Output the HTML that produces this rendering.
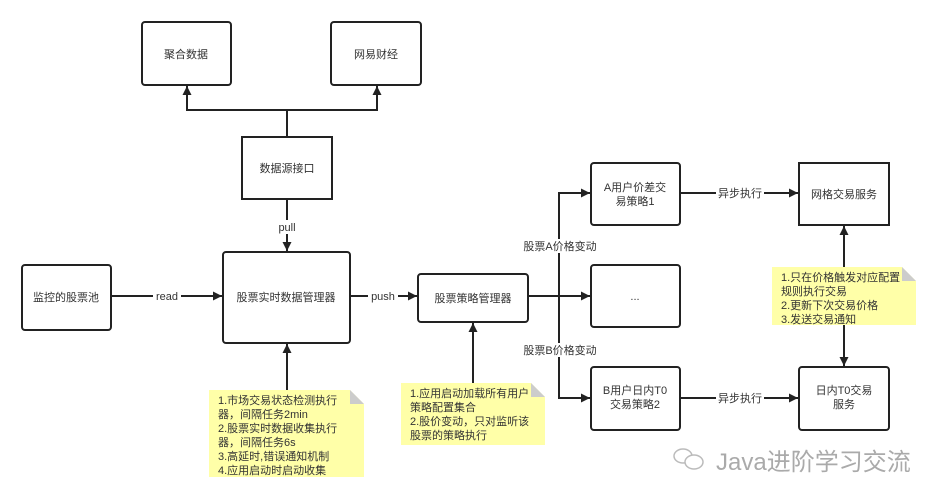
<!DOCTYPE html>
<html><head><meta charset="utf-8"><style>
body{margin:0;background:#fff;}
svg{display:block;font-family:"Liberation Sans","Noto Sans CJK SC",sans-serif;}
</style></head><body>
<svg width="938" height="500" viewBox="0 0 938 500" xmlns="http://www.w3.org/2000/svg">
<defs>
<marker id="a" viewBox="0 0 10 10" refX="10" refY="5" markerWidth="9" markerHeight="9" markerUnits="userSpaceOnUse" orient="auto"><path d="M0,0L10,5L0,10z" fill="#222"/></marker>
</defs>
<g stroke="#222" stroke-width="2" fill="#fff">
<rect x="142" y="22" width="89" height="63" rx="3"/>
<rect x="331" y="22" width="90" height="63" rx="3"/>
<rect x="242" y="137" width="90" height="62"/>
<rect x="22" y="265" width="89" height="65" rx="3"/>
<rect x="223" y="252" width="127" height="91" rx="3"/>
<rect x="418" y="274" width="110" height="48" rx="3"/>
<rect x="591" y="163" width="89" height="62" rx="3"/>
<rect x="591" y="265" width="89" height="62" rx="3"/>
<rect x="591" y="367" width="89" height="63" rx="3"/>
<rect x="799" y="163" width="90" height="62"/>
<rect x="799" y="367" width="90" height="63" rx="3"/>
</g>
<g stroke="#222" stroke-width="2" fill="none">
<path d="M287 137V110H187V86" marker-end="url(#a)"/>
<path d="M287 110H377V86" marker-end="url(#a)"/>
<path d="M287 199V251" marker-end="url(#a)"/>
<path d="M111 296H222" marker-end="url(#a)"/>
<path d="M350 296H417" marker-end="url(#a)"/>
<path d="M287 390V344" marker-end="url(#a)"/>
<path d="M473 383V323" marker-end="url(#a)"/>
<path d="M528 296H590" marker-end="url(#a)"/>
<path d="M559 296V193H590" marker-end="url(#a)"/>
<path d="M559 296V398H590" marker-end="url(#a)"/>
<path d="M680 193H798" marker-end="url(#a)"/>
<path d="M680 398H798" marker-end="url(#a)"/>
<path d="M844 267V226" marker-end="url(#a)"/>
<path d="M844 325V366" marker-end="url(#a)"/>
</g>
<g font-size="11" fill="#333" text-anchor="middle">
<rect x="272" y="220" width="30" height="14" fill="#fff"/>
<text x="287" y="231">pull</text>
<rect x="153" y="289" width="28" height="14" fill="#fff"/>
<text x="167" y="300">read</text>
<rect x="368" y="289" width="30" height="14" fill="#fff"/>
<text x="383" y="300">push</text>
<rect x="520" y="239" width="80" height="14" fill="#fff"/>
<text x="560" y="250">股票A价格变动</text>
<rect x="520" y="343" width="80" height="14" fill="#fff"/>
<text x="560" y="354">股票B价格变动</text>
<rect x="716" y="186" width="48" height="14" fill="#fff"/>
<text x="740" y="197">异步执行</text>
<rect x="716" y="391" width="48" height="14" fill="#fff"/>
<text x="740" y="402">异步执行</text>
<text x="186" y="58">聚合数据</text>
<text x="376" y="58">网易财经</text>
<text x="287" y="172">数据源接口</text>
<text x="66" y="301">监控的股票池</text>
<text x="286" y="301">股票实时数据管理器</text>
<text x="473" y="302">股票策略管理器</text>
<text x="635" y="191">A用户价差交</text>
<text x="635" y="205">易策略1</text>
<text x="635" y="300">...</text>
<text x="635" y="394">B用户日内T0</text>
<text x="635" y="408">交易策略2</text>
<text x="844" y="198">网格交易服务</text>
<text x="844" y="394">日内T0交易</text>
<text x="844" y="408">服务</text>
</g>
<g>
<path d="M209 390H350L364 404V477H209Z" fill="#ffff99" opacity="0.85"/>
<path d="M350 390L364 404H350Z" fill="#ccc"/>
<path d="M401 383H531L545 397V445H401Z" fill="#ffff99" opacity="0.85"/>
<path d="M531 383L545 397H531Z" fill="#ccc"/>
<path d="M772 267H902L916 281V325H772Z" fill="#ffff99" opacity="0.85"/>
<path d="M902 267L916 281H902Z" fill="#ccc"/>
</g>
<g font-size="11" fill="#333">
<text x="218" y="404">1.市场交易状态检测执行</text>
<text x="218" y="418">器，间隔任务2min</text>
<text x="218" y="432">2.股票实时数据收集执行</text>
<text x="218" y="446">器，间隔任务6s</text>
<text x="218" y="460">3.高延时,错误通知机制</text>
<text x="218" y="474">4.应用启动时启动收集</text>
<text x="410" y="397">1.应用启动加载所有用户</text>
<text x="410" y="411">策略配置集合</text>
<text x="410" y="425">2.股价变动，只对监听该</text>
<text x="410" y="439">股票的策略执行</text>
<text x="781" y="281">1.只在价格触发对应配置</text>
<text x="781" y="295">规则执行交易</text>
<text x="781" y="309">2.更新下次交易价格</text>
<text x="781" y="323">3.发送交易通知</text>
</g>
<g fill="none" stroke="#bbb" stroke-width="1.5">
<ellipse cx="683" cy="456" rx="9" ry="7"/>
<ellipse cx="694" cy="462" rx="9" ry="7" fill="#fff"/>
</g>
<text x="716" y="470" font-size="24" fill="#aaa">Java进阶学习交流</text>
</svg>
</body></html>
